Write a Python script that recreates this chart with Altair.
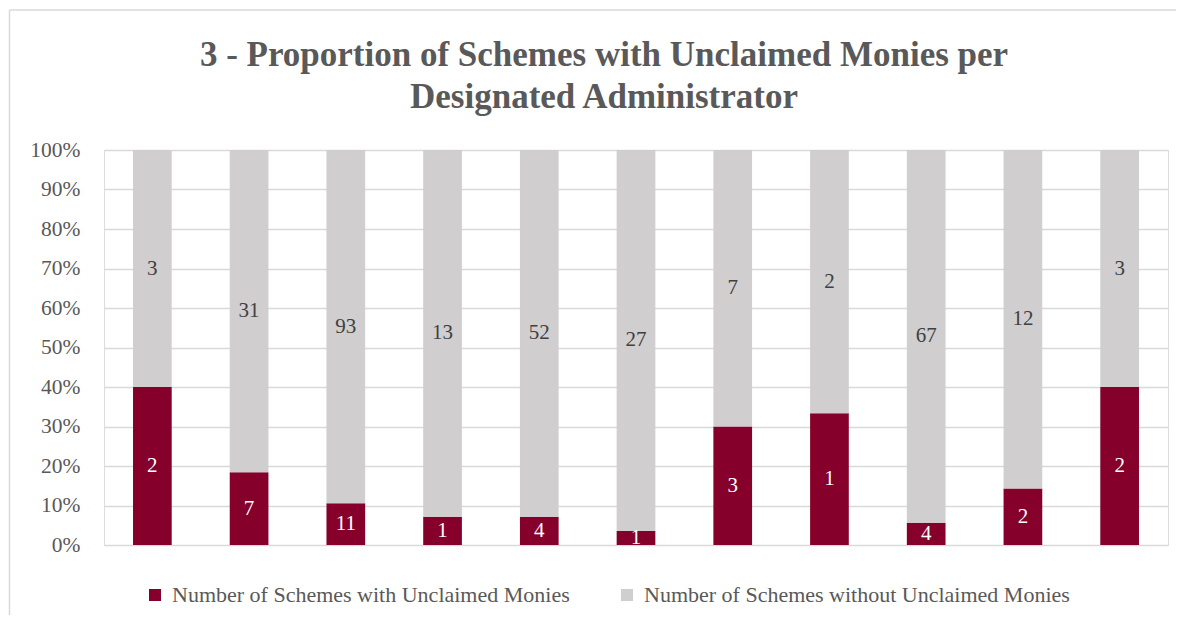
import altair as alt
import pandas as pd

admins = [f"A{i}" for i in range(1, 12)]
with_unclaimed = [2, 7, 11, 1, 4, 1, 3, 1, 4, 2, 2]
without_unclaimed = [3, 31, 93, 13, 52, 27, 7, 2, 67, 12, 3]
series_names = ["Number of Schemes with Unclaimed Monies",
                "Number of Schemes without Unclaimed Monies"]
y_ticks = [round(i / 10, 1) for i in range(11)]

rows = []
for a, w, wo in zip(admins, with_unclaimed, without_unclaimed):
    rows.append({"admin": a, "series": series_names[0], "order": 0, "count": w})
    rows.append({"admin": a, "series": series_names[1], "order": 1, "count": wo})
df = pd.DataFrame(rows)

FONT = "Liberation Serif"
RED = "#85002b"
GRAY = "#d0cecf"
TXT = "#595959"

base = alt.Chart(df).transform_stack(
    stack="count", groupby=["admin"], as_=["y0", "y1"], offset="normalize",
    sort=[alt.SortField("order", order="ascending")]
).transform_calculate(mid="(datum.y0 + datum.y1) / 2")

x_enc = alt.X("admin:N", sort=admins, axis=None,
              scale=alt.Scale(paddingInner=0.6, paddingOuter=0.3))
y_axis = alt.Axis(format="%", values=y_ticks, title=None, grid=True,
                  gridColor="#d9d9d9", gridWidth=1.5, domain=False,
                  ticks=False, labelPadding=24, labelFontSize=21.5,
                  labelFont=FONT, labelColor=TXT, labelOverlap=False)
y_scale = alt.Scale(domain=[0, 1])

bars = base.mark_bar().encode(
    x=x_enc,
    y=alt.Y("y0:Q", scale=y_scale, axis=y_axis),
    y2="y1:Q",
    color=alt.Color("series:N", scale=alt.Scale(domain=series_names, range=[RED, GRAY]),
                    legend=alt.Legend(title=None, orient="none", direction="horizontal",
                                      legendX=40, legendY=434, symbolType="square",
                                      symbolSize=144, symbolStrokeWidth=0,
                                      labelFontSize=22, labelFont=FONT, labelColor=TXT,
                                      labelOffset=6, columnPadding=46, padding=0,
                                      labelLimit=1000)),
)

txt_red = base.transform_filter(alt.datum.order == 0).mark_text(
    font=FONT, fontSize=21, color="white", baseline="middle").encode(
    x=x_enc, y=alt.Y("mid:Q", scale=y_scale, axis=y_axis), text="count:Q")
txt_gray = base.transform_filter(alt.datum.order == 1).mark_text(
    font=FONT, fontSize=21, color="#404040", baseline="middle").encode(
    x=x_enc, y=alt.Y("mid:Q", scale=y_scale, axis=y_axis), text="count:Q")

one = pd.DataFrame({"k": [0]})
frame_top = alt.Chart(one).mark_rule(color="#d9d9d9", strokeWidth=1.5).encode(
    x=alt.value(-94.5), x2=alt.value(1200), y=alt.value(-140))
frame_left = alt.Chart(one).mark_rule(color="#d9d9d9", strokeWidth=1.5).encode(
    x=alt.value(-94.5), y=alt.value(-140), y2=alt.value(600))

chart = alt.layer(frame_top, frame_left, bars, txt_red, txt_gray).properties(
    width=1064, height=395,
    autosize=alt.AutoSizeParams(type="none"),
    padding={"left": 96, "top": 142, "right": 8, "bottom": 70},
    title=alt.TitleParams(
        ["3 - Proportion of Schemes with Unclaimed Monies per", "Designated Administrator"],
        font=FONT, fontSize=35, fontWeight="bold", color=TXT, lineHeight=42,
        anchor="middle", frame="group", offset=-106, dx=-32),
).configure_view(stroke=None).configure(background="white")

chart.save("out.html", embed_options={"renderer": "svg", "actions": False})
